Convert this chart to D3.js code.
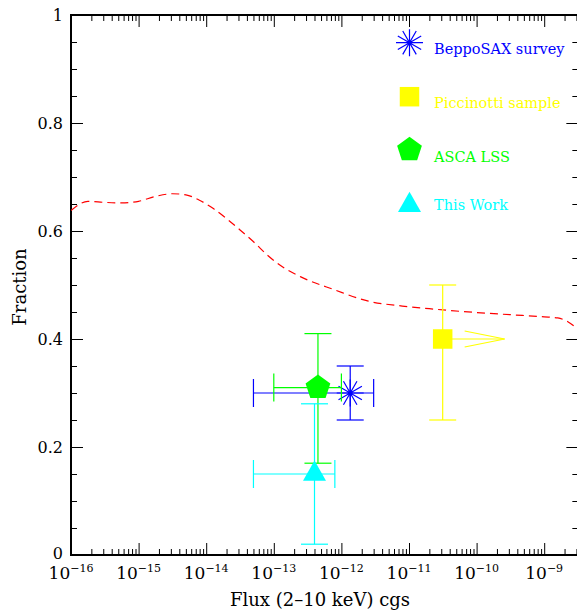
<!DOCTYPE html>
<html>
<head>
<meta charset="utf-8">
<script src="https://cdn.jsdelivr.net/npm/d3@7"></script>
<style>
    body { margin: 0; background: #fff; }
    svg { display: block; }
    text { font-family: "DejaVu Serif", serif; }
</style>
</head>
<body>
<div id="chart"></div>
<script>
"use strict";

// model curve (red dashed): log10 of flux and the fraction
var curveLogFlux = [-16.0, -15.75, -15.5, -15.25, -15.0, -14.75, -14.5, -14.3, -14.1, -13.9,
    -13.7, -13.5, -13.3, -13.1, -12.9, -12.6, -12.1, -11.6, -11.1, -10.6,
    -10.0, -9.5, -9.0, -8.8, -8.65, -8.52];
var curveFraction = [0.638, 0.655, 0.653, 0.652, 0.655, 0.664, 0.669, 0.667, 0.657, 0.642,
    0.623, 0.602, 0.580, 0.556, 0.536, 0.515, 0.491, 0.470, 0.461, 0.455,
    0.449, 0.445, 0.441, 0.439, 0.432, 0.420];

// samples
var sampleNames = ["BeppoSAX survey", "Piccinotti sample", "ASCA LSS", "This Work"];
var sampleColors = ["#0000ff", "#ffff00", "#00ff00", "#00ffff"];
var sampleSymbols = ["star", "square", "pentagon", "triangle"];
var sampleFlux = [1.35e-12, 3.15e-11, 4.5e-13, 4.0e-13];
var sampleFluxLow = [5e-14, null, 1e-13, 5e-14];
var sampleFluxHigh = [3e-12, null, 1e-12, 8e-13];
var sampleFraction = [0.30, 0.40, 0.31, 0.15];
var sampleFractionLow = [0.25, 0.25, 0.17, 0.02];
var sampleFractionHigh = [0.35, 0.50, 0.41, 0.28];
var piccinottiArrowTo = 2.6e-10;   // lower limit arrow

var xTickExponents = [-16, -15, -14, -13, -12, -11, -10, -9];
var yTicks = [0, 0.2, 0.4, 0.6, 0.8, 1];

var chartWidth = 577, chartHeight = 610;
var plotLeft = 71, plotTop = 15, plotBottom = 555;

var svg = d3.select("#chart").append("svg")
    .attr("width", chartWidth)
    .attr("height", chartHeight);

var x = d3.scaleLog().domain([1e-16, 3.2e-9]).range([plotLeft, plotLeft + 67.6 * Math.log10(3.2e-9 / 1e-16)]);
var y = d3.scaleLinear().domain([0, 1]).range([plotBottom, plotTop]);
var plotRight = x.range()[1];

// minor ticks at 2..9 x 10^n
var xMinor = [];
for (var e = -16; e <= -9; e++) {
    for (var m = 2; m <= 9; m++) {
        var v = m * Math.pow(10, e);
        if (v < x.domain()[1]) xMinor.push(v);
    }
}
var xMajor = xTickExponents.map(function (e) { return Math.pow(10, e); });
var yMinor = d3.range(0, 1.0001, 0.05).filter(function (v) { return Math.abs(v * 5 - Math.round(v * 5)) > 1e-6; });

function tickAxis(axis, values, size) {
    return axis.tickValues(values).tickSizeInner(size).tickSizeOuter(0).tickFormat("");
}

var axisMakers = [d3.axisBottom, d3.axisTop, d3.axisLeft, d3.axisRight];
var axisShift = [
    "translate(0," + plotBottom + ")",
    "translate(0," + plotTop + ")",
    "translate(" + plotLeft + ",0)",
    "translate(" + plotRight + ",0)"
];
axisMakers.forEach(function (make, i) {
    var isX = i < 2;
    var sc = isX ? x : y;
    var g1 = svg.append("g").attr("transform", axisShift[i])
        .call(tickAxis(make(sc), isX ? xMajor : yTicks, -12));
    var g2 = svg.append("g").attr("transform", axisShift[i])
        .call(tickAxis(make(sc), isX ? xMinor : yMinor, -6));
    [g1, g2].forEach(function (g) {
        g.select(".domain").remove();
        g.selectAll(".tick line").attr("stroke", "#000").attr("stroke-width", 1);
    });
});

// frame
svg.append("rect")
    .attr("x", plotLeft).attr("y", plotTop)
    .attr("width", plotRight - plotLeft).attr("height", plotBottom - plotTop)
    .attr("fill", "none").attr("stroke", "#000").attr("stroke-width", 2);

// tick labels
svg.append("g").selectAll("text")
    .data(yTicks)
    .join("text")
    .attr("x", plotLeft - 8)
    .attr("y", function (d) { return y(d) + (d === 0 ? 3.5 : 5.5); })
    .attr("text-anchor", "end")
    .attr("font-size", 16)
    .text(function (d) { return d3.format("~g")(d); });

var xl = svg.append("g").selectAll("text")
    .data(xTickExponents)
    .join("text")
    .attr("x", function (d) { return x(Math.pow(10, d)); })
    .attr("y", 579)
    .attr("text-anchor", "middle")
    .attr("font-size", 17)
    .text("10");
xl.append("tspan")
    .attr("dy", -7.5)
    .attr("font-size", 11)
    .text(function (d) { return "\u2212" + Math.abs(d); });

// axis titles
svg.append("text")
    .attr("x", 320).attr("y", 606)
    .attr("text-anchor", "middle")
    .attr("font-size", 18)
    .text("Flux (2\u201310 keV) cgs");

svg.append("text")
    .attr("transform", "translate(26,287) rotate(-90)")
    .attr("text-anchor", "middle")
    .attr("font-size", 18)
    .text("Fraction");

// clip
svg.append("clipPath").attr("id", "plotclip")
    .append("rect")
    .attr("x", plotLeft).attr("y", plotTop)
    .attr("width", plotRight - plotLeft).attr("height", plotBottom - plotTop);

var plot = svg.append("g").attr("clip-path", "url(#plotclip)");

// red dashed curve
var line = d3.line()
    .x(function (d) { return x(Math.pow(10, d)); })
    .y(function (d, i) { return y(curveFraction[i]); })
    .curve(d3.curveMonotoneX);

plot.append("path")
    .attr("d", line(curveLogFlux))
    .attr("fill", "none")
    .attr("stroke", "#ff0000")
    .attr("stroke-width", 1.2)
    .attr("stroke-dasharray", "8,5");

// symbol shapes
function symbolPath(kind) {
    var p = d3.path();
    if (kind === "star") {
        var r = 13.5;
        for (var k = 0; k < 6; k++) {
            var a = k * Math.PI / 6;
            p.moveTo(-r * Math.cos(a), -r * Math.sin(a));
            p.lineTo(r * Math.cos(a), r * Math.sin(a));
        }
    } else if (kind === "square") {
        p.rect(-9.75, -9.75, 19.5, 19.5);
    } else if (kind === "pentagon") {
        for (var j = 0; j < 5; j++) {
            var b = -Math.PI / 2 + j * 2 * Math.PI / 5;
            if (j === 0) p.moveTo(13 * Math.cos(b), 13 * Math.sin(b));
            else p.lineTo(13 * Math.cos(b), 13 * Math.sin(b));
        }
        p.closePath();
    } else {
        p.moveTo(0, -13.5);
        p.lineTo(11.5, 6.8);
        p.lineTo(-11.5, 6.8);
        p.closePath();
    }
    return p.toString();
}

function drawSymbol(g, kind, color, cx, cy) {
    var s = g.append("path")
        .attr("transform", "translate(" + cx + "," + cy + ")")
        .attr("d", symbolPath(kind));
    if (kind === "star") {
        s.attr("fill", "none").attr("stroke", color).attr("stroke-width", 1.2);
    } else {
        s.attr("fill", color).attr("stroke", "none");
    }
}

// data points with error bars
var order = [0, 2, 3, 1];
var capHalf = 13.5;
order.forEach(function (i) {
    var g = plot.append("g")
        .attr("stroke", sampleColors[i])
        .attr("stroke-width", 1.2)
        .attr("fill", "none");
    var cx = x(sampleFlux[i]), cy = y(sampleFraction[i]);
    var yl = y(sampleFractionLow[i]), yh = y(sampleFractionHigh[i]);
    g.append("line").attr("x1", cx).attr("x2", cx).attr("y1", yl).attr("y2", yh);
    g.append("line").attr("x1", cx - capHalf).attr("x2", cx + capHalf).attr("y1", yl).attr("y2", yl);
    g.append("line").attr("x1", cx - capHalf).attr("x2", cx + capHalf).attr("y1", yh).attr("y2", yh);
    if (sampleFluxLow[i] !== null) {
        var xl0 = x(sampleFluxLow[i]), xh0 = x(sampleFluxHigh[i]);
        g.append("line").attr("x1", xl0).attr("x2", xh0).attr("y1", cy).attr("y2", cy);
        g.append("line").attr("x1", xl0).attr("x2", xl0).attr("y1", cy - 14).attr("y2", cy + 14);
        g.append("line").attr("x1", xh0).attr("x2", xh0).attr("y1", cy - 14).attr("y2", cy + 14);
    } else {
        // lower limit arrow
        var tip = x(piccinottiArrowTo);
        g.append("line").attr("x1", cx).attr("x2", tip).attr("y1", cy).attr("y2", cy);
        g.append("path").attr("d", "M" + (tip - 40) + "," + (cy - 8) + "L" + tip + "," + cy + "L" + (tip - 40) + "," + (cy + 8));
    }
    drawSymbol(plot, sampleSymbols[i], sampleColors[i], cx, cy);
});

// legend
var legendMarkY = [42.7, 96.7, 149.7, 205.2];
var legendTextY = [54.3, 108, 162.3, 210.3];
var legend = svg.append("g");
sampleNames.forEach(function (name, i) {
    drawSymbol(legend, sampleSymbols[i], sampleColors[i], 409.5, legendMarkY[i]);
    legend.append("text")
        .attr("x", 434)
        .attr("y", legendTextY[i])
        .attr("font-size", 14.5)
        .attr("fill", sampleColors[i])
        .text(name);
});
</script>
</body>
</html>
